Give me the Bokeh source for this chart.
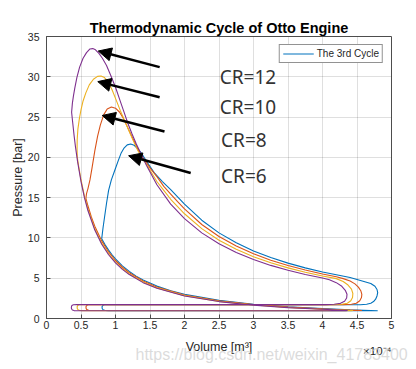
from bokeh.plotting import figure
from bokeh.models import Label, Arrow, NormalHead, FixedTicker, Range1d, Title
from bokeh.embed import file_html
from bokeh.resources import INLINE

# ---------------- data (volume in 1e-4 m^3, pressure in bar) ----------------
cr6_v = [0.9, 4.78, 4.8, 4.4, 4.0, 3.5, 3.0, 2.5, 2.0, 1.8, 1.6, 1.4, 1.3, 1.2, 1.1, 1.0, 0.95, 0.9, 0.85, 0.8,
         0.81, 0.82, 0.84, 0.87, 0.90, 0.94, 0.99, 1.04, 1.08, 1.12, 1.17, 1.22, 1.27, 1.32, 1.37, 1.45, 1.56, 1.68, 1.8, 1.9, 2.0,
         2.25, 2.5, 2.75, 3.0, 3.25, 3.5, 3.75, 4.0, 4.2, 4.4,
         4.5, 4.6, 4.7, 4.76, 4.79, 4.80, 4.79, 4.77, 4.74, 4.70, 4.64, 4.55, 4.4,
         0.88, 0.84, 0.815, 0.805, 0.807, 0.82, 0.85, 0.9]
cr6_p = [0.97, 0.96, 0.96, 1.08, 1.22, 1.45, 1.77, 2.25, 3.01, 3.45, 4.02, 4.78, 5.26, 5.84, 6.54, 7.4, 7.91, 8.49, 9.14, 9.89,
         10.6, 11.3, 12.5, 14.3, 15.9, 17.2, 18.4, 19.6, 20.5, 21.1, 21.55, 21.65, 21.5, 21.1, 20.6, 19.5, 18.1, 17.0, 16.0, 15.1, 14.2,
         12.2, 10.63, 9.40, 8.39, 7.56, 6.87, 6.28, 5.77, 5.42, 5.08,
         4.85, 4.6, 4.35, 4.0, 3.6, 3.2, 2.8, 2.4, 2.1, 1.9, 1.76, 1.71, 1.70,
         1.72, 1.70, 1.62, 1.45, 1.25, 1.08, 1.0, 0.97]

cr8_v = [0.67, 4.55, 4.571, 4.2, 4.0, 3.5, 3.0, 2.5, 2.0, 1.6, 1.4, 1.2, 1.1, 1.0, 0.9, 0.8, 0.7, 0.65, 0.6, 0.571,
         0.58, 0.60, 0.63, 0.66, 0.70, 0.74, 0.78, 0.83, 0.88, 0.94, 1.00, 1.06, 1.11, 1.16, 1.22, 1.28, 1.34, 1.4, 1.5, 1.6, 1.7, 1.8, 1.9, 2.0,
         2.25, 2.5, 2.75, 3.0, 3.25, 3.5, 3.75, 4.0, 4.2,
         4.3, 4.4, 4.47, 4.52, 4.555, 4.57, 4.565, 4.54, 4.49, 4.42, 4.3,
         0.65, 0.605, 0.582, 0.572, 0.574, 0.585, 0.61, 0.67]
cr8_p = [0.99, 0.99, 1.0, 1.11, 1.19, 1.41, 1.73, 2.19, 2.92, 3.91, 4.65, 5.68, 6.36, 7.2, 8.26, 9.63, 11.45, 12.6, 13.99, 14.9,
         15.5, 16.1, 17.2, 18.7, 20.8, 22.6, 24.0, 25.3, 26.0, 26.25, 26.1, 25.6, 24.9, 24.0, 22.9, 21.8, 20.8, 19.95, 18.7, 17.6, 16.4, 15.45, 14.5, 13.6,
         11.67, 10.18, 8.99, 8.03, 7.24, 6.57, 6.01, 5.53, 5.18,
         4.95, 4.65, 4.3, 3.9, 3.45, 3.0, 2.6, 2.2, 1.9, 1.76, 1.72,
         1.72, 1.70, 1.62, 1.45, 1.25, 1.1, 1.02, 0.99]

cr10_v = [0.52, 4.42, 4.444, 4.0, 3.5, 3.0, 2.5, 2.0, 1.6, 1.4, 1.2, 1.1, 1.0, 0.9, 0.8, 0.7, 0.6, 0.55, 0.5, 0.47, 0.455, 0.446,
          0.443, 0.445, 0.455, 0.478, 0.50, 0.53, 0.57, 0.62, 0.68, 0.74, 0.79, 0.84, 0.89, 0.95, 1.01, 1.07, 1.13, 1.19, 1.25, 1.32, 1.4, 1.5, 1.6, 1.7, 1.8, 1.9, 2.0,
          2.25, 2.5, 2.75, 3.0, 3.25, 3.5, 3.75, 4.0, 4.2,
          4.3, 4.37, 4.42, 4.44, 4.435, 4.41, 4.36, 4.28, 4.15,
          0.52, 0.475, 0.452, 0.444, 0.446, 0.457, 0.48, 0.52]
cr10_p = [0.98, 0.98, 1.0, 1.15, 1.37, 1.68, 2.13, 2.84, 3.80, 4.52, 5.52, 6.18, 7.0, 8.03, 9.36, 11.13, 13.6, 15.2, 17.24, 18.7, 19.5, 20.1,
          21.0, 22.2, 23.5, 24.9, 25.9, 27.0, 28.0, 29.0, 29.7, 30.05, 30.1, 29.9, 29.4, 28.4, 27.1, 25.8, 24.6, 23.4, 22.2, 20.9, 19.8, 18.4, 17.0, 15.9, 14.8, 13.9, 13.0,
          11.15, 9.72, 8.59, 7.67, 6.91, 6.28, 5.74, 5.28, 4.95,
          4.6, 4.15, 3.65, 3.1, 2.6, 2.2, 1.9, 1.76, 1.72,
          1.72, 1.70, 1.62, 1.45, 1.25, 1.09, 1.0, 0.98]

cr12_v = [0.46, 4.34, 4.364, 4.0, 3.5, 3.0, 2.5, 2.0, 1.6, 1.4, 1.2, 1.1, 1.0, 0.9, 0.8, 0.7, 0.6, 0.55, 0.5, 0.45, 0.42, 0.4, 0.38, 0.364,
          0.375, 0.39, 0.41, 0.44, 0.48, 0.53, 0.58, 0.63, 0.67, 0.71, 0.76, 0.81, 0.87, 0.93, 1.0, 1.06, 1.12, 1.18, 1.24, 1.30, 1.36, 1.45, 1.6, 1.8, 2.0,
          2.25, 2.5, 2.75, 3.0, 3.25, 3.5, 3.75, 4.0,
          4.1, 4.2, 4.28, 4.33, 4.355, 4.35, 4.32, 4.26, 4.17, 4.05,
          0.44, 0.39, 0.367, 0.36, 0.362, 0.375, 0.4, 0.46]
cr12_p = [0.96, 0.96, 1.0, 1.14, 1.35, 1.65, 2.10, 2.80, 3.75, 4.45, 5.45, 6.1, 6.9, 7.91, 9.22, 10.97, 13.4, 15.0, 17.0, 19.5, 21.3, 22.7, 24.3, 25.6,
          26.7, 27.6, 28.6, 29.9, 31.2, 32.3, 33.0, 33.45, 33.5, 33.35, 32.9, 32.3, 31.4, 30.2, 28.7, 27.2, 25.7, 24.2, 22.9, 21.7, 20.6, 19.0, 16.6, 14.2, 12.4,
          10.63, 9.27, 8.19, 7.31, 6.59, 5.98, 5.47, 5.03,
          4.8, 4.45, 4.0, 3.5, 3.0, 2.55, 2.15, 1.88, 1.76, 1.72,
          1.72, 1.70, 1.60, 1.42, 1.22, 1.06, 0.98, 0.96]

series_colors = ["#0072BD", "#D95319", "#EDB120", "#7E2F8E"]
legend_text = "The 3rd Cycle"

x_ticks = [0.0, 0.5, 1.0, 1.5, 2.0, 2.5, 3.0, 3.5, 4.0, 4.5, 5.0]
x_tick_labels = ["0", "0.5", "1", "1.5", "2", "2.5", "3", "3.5", "4", "4.5", "5"]
y_ticks = [0, 5, 10, 15, 20, 25, 30, 35]
y_tick_labels = ["0", "5", "10", "15", "20", "25", "30", "35"]

cr_labels = ["CR=12", "CR=10", "CR=8", "CR=6"]
cr_label_v = [2.51, 2.51, 2.53, 2.53]
cr_label_p = [30.0, 26.2, 22.1, 17.7]
arrow_tail_v = [1.64, 1.64, 1.71, 2.09]
arrow_tail_p = [31.2, 27.45, 23.2, 18.06]
arrow_tip_v = [0.75, 0.743, 0.807, 1.19]
arrow_tip_p = [33.2, 29.4, 25.2, 20.2]

title_text = "Thermodynamic Cycle of Otto Engine"
xlabel_text = "Volume [m\u00b3]"
ylabel_text = "Pressure [bar]"
exponent_text = "\u00d710\u207b\u2074"
watermark_text = "https://blog.csdn.net/weixin_41783400"

# ---------------- figure ----------------
AX = "#262626"
FONT = "Liberation Sans"

p = figure(frame_width=345, frame_height=282,
           x_range=Range1d(0, 5), y_range=Range1d(0, 35),
           output_backend="svg", toolbar_location=None,
           min_border_left=46, min_border_right=22, min_border_top=36, min_border_bottom=48,
           background_fill_color="white", border_fill_color="white")
p.outline_line_color = "#4d4d4d"
p.outline_line_width = 1

p.title.text = title_text
p.title.align = "center"
p.title.text_font = FONT
p.title.text_font_size = "14.5px"
p.title.text_font_style = "bold"
p.title.text_color = "black"
p.title.standoff = 1

for ax in (p.xaxis[0], p.yaxis[0]):
    ax.major_tick_in = 4
    ax.major_tick_out = 0
    ax.minor_tick_line_color = None
    ax.axis_line_color = "#4d4d4d"
    ax.major_tick_line_color = "#4d4d4d"
    ax.major_label_text_font = FONT
    ax.major_label_text_color = AX
    ax.axis_label_text_font = FONT
    ax.axis_label_text_color = AX
    ax.axis_label_text_font_style = "normal"
    ax.axis_label_text_font_size = "12.5px"

p.xaxis.ticker = FixedTicker(ticks=x_ticks)
p.xaxis.major_label_overrides = dict(zip(x_ticks, x_tick_labels))
p.xaxis.major_label_text_font_size = "10.5px"
p.xaxis.major_label_standoff = 2
p.xaxis.axis_label = xlabel_text
p.xaxis.axis_label_standoff = 8

p.yaxis.ticker = FixedTicker(ticks=y_ticks)
p.yaxis.major_label_overrides = dict(zip(y_ticks, y_tick_labels))
p.yaxis.major_label_text_font_size = "10.5px"
p.yaxis.major_label_standoff = 7
p.yaxis.axis_label = ylabel_text
p.yaxis.axis_label_standoff = 0

p.xgrid.ticker = FixedTicker(ticks=x_ticks)
p.ygrid.ticker = FixedTicker(ticks=y_ticks)
p.grid.grid_line_color = AX
p.grid.grid_line_alpha = 0.15

# exponent of the x axis, as a title row pulled up beside the axis label
p.add_layout(Title(text=exponent_text, align="right", vertical_align="top", text_font=FONT,
                   text_font_size="11.5px", text_font_style="normal", text_color=AX, standoff=-24), "below")
# faint watermark, as a further title row
p.add_layout(Title(text=watermark_text, align="left", vertical_align="top", offset=89, text_font=FONT,
                   text_font_size="16px", text_font_style="normal", text_color="#d0d0d0", text_alpha=0.75,
                   standoff=-22), "below")

# cycles
all_v = [cr6_v, cr8_v, cr10_v, cr12_v]
all_p = [cr6_p, cr8_p, cr10_p, cr12_p]
for i, (vv, pp) in enumerate(zip(all_v, all_p)):
    if i == 0:
        p.line(vv, pp, line_color=series_colors[i], line_width=1.1, legend_label=legend_text)
    else:
        p.line(vv, pp, line_color=series_colors[i], line_width=1.1)

# arrows and labels
for i in range(len(cr_labels)):
    p.add_layout(Arrow(x_start=arrow_tail_v[i], y_start=arrow_tail_p[i],
                       x_end=arrow_tip_v[i], y_end=arrow_tip_p[i],
                       line_width=2.5, line_color="black",
                       end=NormalHead(size=13, fill_color="black", line_color="black", line_width=1)))
    p.add_layout(Label(x=cr_label_v[i], y=cr_label_p[i], text=cr_labels[i], text_font="Noto Sans",
                       text_font_size="19px", text_color="#333333", text_baseline="middle"))

leg = p.legend[0]
leg.location = "top_right"
leg.margin = 8
leg.padding = 3
leg.spacing = 0
leg.glyph_height = 11
leg.glyph_width = 31
leg.label_height = 11
leg.label_standoff = 3
leg.label_text_font = FONT
leg.label_text_font_size = "10px"
leg.label_text_color = AX
leg.border_line_color = AX
leg.border_line_width = 1
leg.background_fill_alpha = 1

open("out.html", "w").write(file_html(p, INLINE))
